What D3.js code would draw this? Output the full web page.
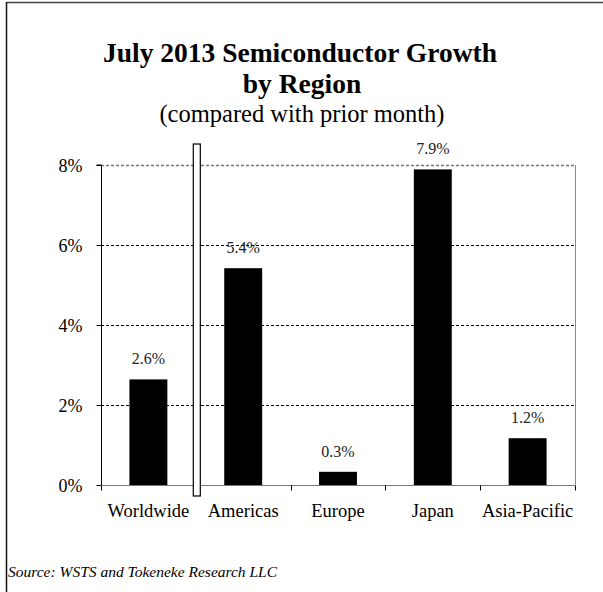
<!DOCTYPE html>
<html>
<head>
<meta charset="utf-8">
<script src="https://cdn.jsdelivr.net/npm/d3@7"></script>
<style>
  html, body { margin: 0; padding: 0; background: #fff; }
</style>
</head>
<body>
<svg id="chart" width="603" height="592"></svg>
<script>
const categories = ["Worldwide", "Americas", "Europe", "Japan", "Asia-Pacific"];
const values = [2.64, 5.42, 0.33, 7.89, 1.17];
const valueLabels = ["2.6%", "5.4%", "0.3%", "7.9%", "1.2%"];
const yTicks = [0, 2, 4, 6, 8];
const titleLines = ["July 2013 Semiconductor Growth", "by Region"];
const subtitle = "(compared with prior month)";
const sourceText = "Source: WSTS and Tokeneke Research LLC";

const FONT = "'Liberation Serif', 'Times New Roman', serif";
const svg = d3.select("#chart");
const m = { left: 101, right: 575, top: 165, bottom: 485 };

// outer frame (top and left edges)
svg.append("line").attr("x1", 6.5).attr("x2", 603).attr("y1", 2.5).attr("y2", 2.5)
  .attr("stroke", "#444").attr("stroke-width", 1.5);
svg.append("line").attr("x1", 6.5).attr("x2", 6.5).attr("y1", 2).attr("y2", 592)
  .attr("stroke", "#111").attr("stroke-width", 1.5);

const x = d3.scaleBand().domain(categories).range([m.left, m.right]).paddingInner(0.6).paddingOuter(0.3);
const xb = d3.scaleBand().domain(categories).range([m.left, m.right]);
const y = d3.scaleLinear().domain([0, 8]).range([m.bottom, m.top]);

// gridlines
svg.append("g").selectAll("line").data(yTicks.filter(d => d > 0)).join("line")
  .attr("x1", m.left).attr("x2", m.right)
  .attr("y1", d => Math.round(y(d)) + 0.5).attr("y2", d => Math.round(y(d)) + 0.5)
  .attr("stroke", d => d === 8 ? "#777" : "#000")
  .attr("stroke-dasharray", "3,2")
  .attr("stroke-width", d => d === 8 ? 1.5 : 1);

// right border
svg.append("line").attr("x1", m.right + 0.5).attr("x2", m.right + 0.5)
  .attr("y1", m.top).attr("y2", m.bottom).attr("stroke", "#888");

// bars
svg.append("g").selectAll("rect").data(categories).join("rect")
  .attr("x", d => x(d)).attr("width", x.bandwidth())
  .attr("y", (d, i) => y(values[i])).attr("height", (d, i) => y(0) - y(values[i]))
  .attr("fill", "#000");

// value labels
svg.append("g").selectAll("text").data(categories).join("text")
  .attr("x", d => x(d) + x.bandwidth() / 2)
  .attr("y", (d, i) => y(values[i]) - 15)
  .attr("text-anchor", "middle").attr("font-size", 16).attr("fill", "#222")
  .attr("font-family", FONT)
  .text((d, i) => valueLabels[i]);

// y axis
const yAxis = d3.axisLeft(y).tickValues(yTicks).tickFormat(d => d + "%").tickSize(5).tickPadding(14);
const gy = svg.append("g").attr("transform", `translate(${m.left + 0.5},0)`).call(yAxis);
gy.attr("font-family", FONT);
gy.select(".domain").attr("stroke", "#000").attr("d", `M-5,${y(8)}H0V${y(0)}`);
gy.selectAll(".tick line").attr("stroke", "#000");
gy.selectAll(".tick text").attr("font-size", 18).attr("fill", "#000")
  .attr("font-family", FONT).attr("dy", "0.35em");

// x axis
const xAxis = d3.axisBottom(xb).tickSize(0).tickPadding(0);
const gx = svg.append("g").attr("transform", `translate(0,${m.bottom + 0.5})`).call(xAxis);
gx.attr("font-family", FONT);
gx.select(".domain").attr("stroke", "#777").attr("d", `M${m.left},0H${m.right}`);
gx.selectAll(".tick text").attr("font-size", 18.5).attr("fill", "#000")
  .attr("font-family", FONT).attr("dy", null).attr("y", 31);
// boundary tick marks
const bounds = categories.map(c => xb(c)).concat([m.right]);
gx.append("g").selectAll("line").data(bounds).join("line")
  .attr("x1", d => Math.round(d) + 0.5).attr("x2", d => Math.round(d) + 0.5)
  .attr("y1", 0).attr("y2", 5).attr("stroke", "#000");

// separator rect between Worldwide and Americas
const sepX = xb(categories[1]);
svg.append("rect").attr("x", sepX - 2.5).attr("y", 144).attr("width", 7).attr("height", 352)
  .attr("fill", "#fff").attr("stroke", "#000").attr("stroke-width", 1.2);

// titles
svg.append("text").attr("x", 300).attr("y", 62).attr("text-anchor", "middle")
  .attr("font-family", FONT).attr("font-size", 27.5).attr("font-weight", "bold").text(titleLines[0]);
svg.append("text").attr("x", 302).attr("y", 93).attr("text-anchor", "middle")
  .attr("font-family", FONT).attr("font-size", 27.5).attr("font-weight", "bold").text(titleLines[1]);
svg.append("text").attr("x", 302).attr("y", 122).attr("text-anchor", "middle")
  .attr("font-family", FONT).attr("font-size", 24.5).text(subtitle);

// source
svg.append("text").attr("x", 8).attr("y", 577).attr("font-size", 15.5)
  .attr("font-family", FONT).attr("font-style", "italic").text(sourceText);
</script>
</body>
</html>
